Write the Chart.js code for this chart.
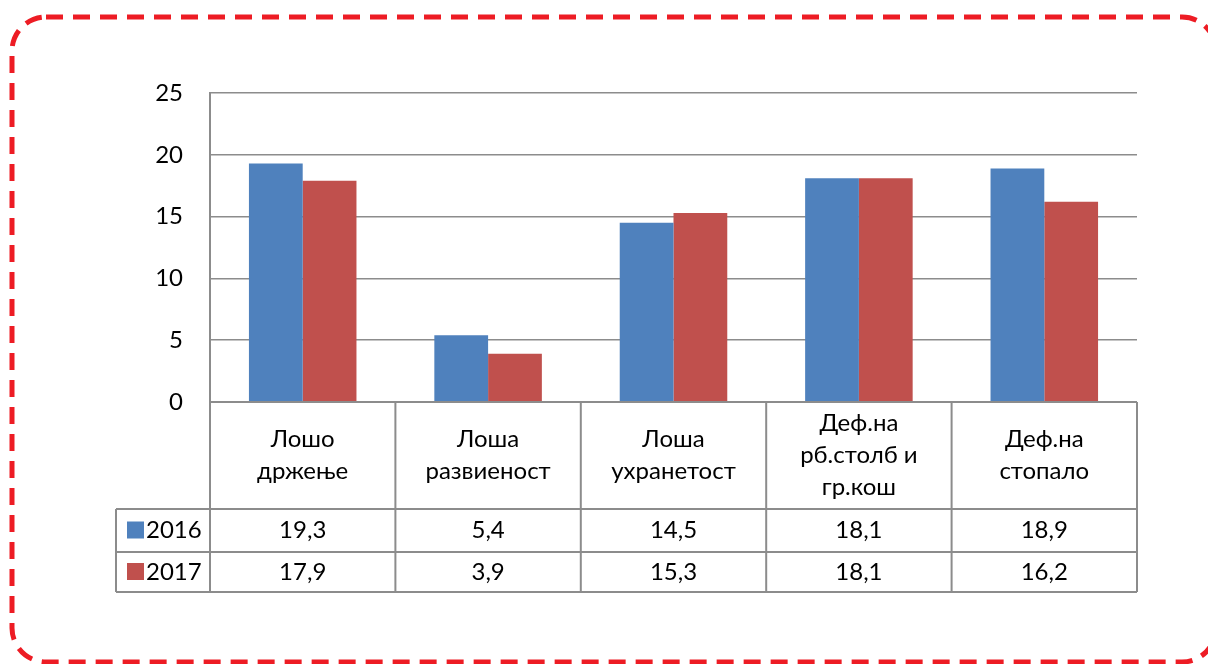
<!DOCTYPE html>
<html>
<head>
<meta charset="utf-8">
<script src="https://cdn.jsdelivr.net/npm/chart.js@4"></script>
<style>
  html, body { margin: 0; padding: 0; background: #fff; }
  #wrap { width: 1208px; height: 664px; position: relative; }
</style>
</head>
<body>
<div id="wrap"><canvas id="chart"></canvas></div>
<script>
// data
const categories = [
  ['Лошо', 'држење'],
  ['Лоша', 'развиеност'],
  ['Лоша', 'ухранетост'],
  ['Деф.на', 'рб.столб и', 'гр.кош'],
  ['Деф.на', 'стопало'],
];
const seriesLabels = ['2016', '2017'];
const values2016 = [19.3, 5.4, 14.5, 18.1, 18.9];
const values2017 = [17.9, 3.9, 15.3, 18.1, 16.2];
const yMax = 25, yStep = 5;

const BLUE = '#4F81BD', RED = '#C0504D';
const LINE = '#8c8c8c';
const FONT = 'Lato, "Open Sans", sans-serif';
const FS = 24;

const fmt = v => v.toFixed(1).replace('.', ',');

// red dashed frame round the whole picture (right side runs off the canvas)
const framePlugin = {
  id: 'frame',
  afterDraw(chart) {
    const c = chart.ctx;
    const x0 = 12, y0 = 17, x1 = 1216, y1 = 662, r = 34;
    c.save();
    c.strokeStyle = '#ED1C24';
    c.lineWidth = 5;
    c.setLineDash([17, 10]);
    c.beginPath();
    c.moveTo(x0 + r, y0);
    c.lineTo(x1 - r, y0);
    c.arcTo(x1, y0, x1, y0 + r, r);
    c.lineTo(x1, y1 - r);
    c.arcTo(x1, y1, x1 - r, y1, r);
    c.lineTo(x0 + r, y1);
    c.arcTo(x0, y1, x0, y1 - r, r);
    c.lineTo(x0, y0 + r);
    c.arcTo(x0, y0, x0 + r, y0, r);
    c.stroke();
    c.restore();
  }
};

// Excel style data table under the plot
const tablePlugin = {
  id: 'dataTable',
  afterDraw(chart) {
    const c = chart.ctx;
    const area = chart.chartArea;
    const xs = chart.scales.x;
    const n = categories.length;
    const colW = (area.right - area.left) / n;
    const top = area.bottom;
    const rowA = top + 107, rowB = top + 150, bottom = top + 190;
    const legLeft = 116;

    c.save();
    c.strokeStyle = LINE;
    c.lineWidth = 2;
    c.beginPath();
    c.moveTo(area.left, top); c.lineTo(area.right, top);
    [rowA, rowB, bottom].forEach(y => { c.moveTo(legLeft, y); c.lineTo(area.right, y); });
    c.moveTo(legLeft, rowA); c.lineTo(legLeft, bottom);
    for (let i = 0; i <= n; i++) {
      const x = area.left + i * colW;
      c.moveTo(x, top); c.lineTo(x, bottom);
    }
    c.stroke();

    c.fillStyle = '#000';
    c.font = FS + 'px ' + FONT;
    c.textAlign = 'center';
    c.textBaseline = 'middle';
    const lh = 32;
    categories.forEach((lines, i) => {
      const cx = xs.getPixelForValue(i);
      const cy = (top + rowA) / 2;
      const start = cy - (lines.length - 1) * lh / 2;
      lines.forEach((t, k) => c.fillText(t, cx, start + k * lh));
    });

    const rows = [
      { label: seriesLabels[0], color: BLUE, vals: values2016, y: (rowA + rowB) / 2 },
      { label: seriesLabels[1], color: RED, vals: values2017, y: (rowB + bottom) / 2 },
    ];
    rows.forEach(r => {
      c.fillStyle = r.color;
      c.fillRect(127, r.y - 9, 17, 17);
      c.fillStyle = '#000';
      c.textAlign = 'left';
      c.fillText(r.label, 146, r.y);
      c.textAlign = 'center';
      r.vals.forEach((v, i) => c.fillText(fmt(v), xs.getPixelForValue(i), r.y));
    });
    c.restore();
  }
};

new Chart(document.getElementById('chart'), {
  type: 'bar',
  data: {
    labels: categories,
    datasets: [
      { label: seriesLabels[0], data: values2016, backgroundColor: BLUE },
      { label: seriesLabels[1], data: values2017, backgroundColor: RED },
    ],
  },
  options: {
    responsive: true,
    maintainAspectRatio: false,
    animation: false,
    devicePixelRatio: 1,
    layout: { padding: { left: 150, top: 93, right: 71, bottom: 262 } },
    datasets: { bar: { categoryPercentage: 0.58, barPercentage: 1 } },
    plugins: { legend: { display: false }, tooltip: { enabled: false } },
    scales: {
      x: { display: false },
      y: {
        min: 0, max: yMax,
        ticks: { stepSize: yStep, color: '#000', padding: 27, font: { family: FONT, size: FS } },
        grid: { color: LINE, lineWidth: 1.5, drawTicks: false },
        border: { color: LINE, width: 2 },
        afterFit: s => { s.width = 60; },
      },
    },
  },
  plugins: [tablePlugin, framePlugin],
});
</script>
</body>
</html>
